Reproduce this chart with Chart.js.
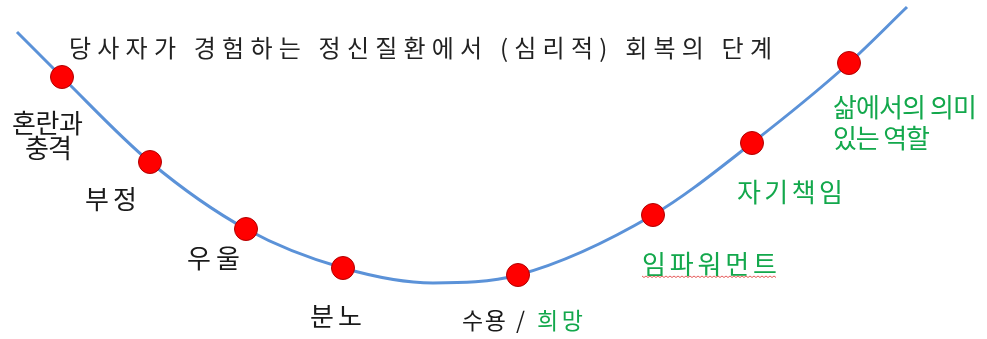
<!DOCTYPE html>
<html>
<head>
<meta charset="utf-8">
<script src="https://cdn.jsdelivr.net/npm/chart.js@4/dist/chart.umd.min.js"></script>
<style>
  html, body { margin: 0; padding: 0; background: #fff; }
  canvas { display: block; }
</style>
</head>
<body>
<canvas id="recovery" width="987" height="339"></canvas>
<script>
// stages of recovery along the curve
const stages = ['혼란과 충격', '부정', '우울', '분노', '수용 / 희망', '임파워먼트', '자기책임', '삶에서의 의미 있는 역할']
const stageX = [62, 150, 246, 343, 518, 653, 752, 849]
const stageLevel = [262, 177, 110, 71, 64, 124, 196, 276]

// the curve itself (start, stages, bottom, end)
const curveX = [17, 62, 150, 246, 343, 433, 518, 653, 752, 849, 907]
const curveLevel = [307, 262, 177, 110, 71, 56, 64, 124, 196, 276, 332]

const title = '당사자가 경험하는 정신질환에서 (심리적) 회복의 단계'

const BLACK = '#1a1a1a'
const GREEN = '#13a84c'

// label placement: x (left edge), level (middle), width to spread over
const labels = [
  { x: 12, y: 216, w: 71, parts: [['혼란과', BLACK]] },
  { x: 25, y: 191, w: 47, parts: [['충격', BLACK]] },
  { x: 85, y: 140, w: 52, parts: [['부정', BLACK]] },
  { x: 187, y: 81, w: 53, parts: [['우울', BLACK]] },
  { x: 310, y: 23, w: 52, parts: [['분노', BLACK]] },
  { x: 462, y: 19, w: 44, size: 23, parts: [['수용', BLACK]] },
  { x: 516, y: 19, w: 11, size: 23, parts: [['/', BLACK]] },
  { x: 537, y: 19, w: 46, size: 23, parts: [['희망', GREEN]] },
  { x: 642, y: 75, w: 135, parts: [['임파워먼트', GREEN]], squiggle: true },
  { x: 737, y: 147, w: 106, parts: [['자기책임', GREEN]] },
  { x: 833, y: 232, w: 144, parts: [['삶에서의 의미', GREEN]] },
  { x: 833, y: 201, w: 97, parts: [['있는 역할', GREEN]] }
]

const FONT = '"Noto Sans CJK KR", "Noto Sans", sans-serif'

// draws the pieces char by char, stretching the gaps to fill width w
function spreadText(ctx, parts, x, y, w) {
  const chars = []
  parts.forEach(p => {
    for (const ch of p[0]) chars.push([ch, p[1]])
  })
  let natural = 0
  chars.forEach(c => { natural += ctx.measureText(c[0]).width })
  const gap = chars.length > 1 ? (w - natural) / (chars.length - 1) : 0
  let px = x
  chars.forEach(c => {
    ctx.fillStyle = c[1]
    ctx.fillText(c[0], px, y)
    px += ctx.measureText(c[0]).width + gap
  })
}

const textPlugin = {
  id: 'stageText',
  afterDatasetsDraw(chart) {
    const ctx = chart.ctx
    const xs = chart.scales.x
    const ys = chart.scales.y
    ctx.save()
    ctx.textBaseline = 'middle'
    ctx.textAlign = 'left'
    ctx.font = '24px ' + FONT
    const tx = xs.getPixelForValue(69)
    spreadText(ctx, [[title, '#222']], tx, ys.getPixelForValue(291), xs.getPixelForValue(772) - tx)

    labels.forEach(l => {
      ctx.font = (l.size || 26) + 'px ' + FONT
      const py = ys.getPixelForValue(l.y)
      const px = xs.getPixelForValue(l.x)
      const w = xs.getPixelForValue(l.x + l.w) - px
      spreadText(ctx, l.parts, px, py, w)
      if (l.squiggle) {
        // spell-check wavy underline
        ctx.strokeStyle = '#e03030'
        ctx.lineWidth = 0.8
        ctx.beginPath()
        const uy = py + 12
        let k = 0
        for (let x = px; x <= px + w; x += 2, k++) {
          const yy = uy + (k % 2 === 0 ? 0 : 1.5)
          if (k === 0) ctx.moveTo(x, yy)
          else ctx.lineTo(x, yy)
        }
        ctx.stroke()
      }
    })
    ctx.restore()
  }
}

new Chart(document.getElementById('recovery'), {
  type: 'scatter',
  data: {
    datasets: [
      {
        label: 'stages',
        data: stageX.map((x, i) => ({ x: x, y: stageLevel[i], name: stages[i] })),
        pointRadius: 11.5,
        pointBackgroundColor: '#ff0000',
        pointBorderColor: '#b00000',
        pointBorderWidth: 1,
        showLine: false
      },
      {
        label: 'curve',
        data: curveX.map((x, i) => ({ x: x, y: curveLevel[i] })),
        showLine: true,
        borderColor: '#5b92d8',
        borderWidth: 3,
        pointRadius: 0,
        cubicInterpolationMode: 'monotone'
      }
    ]
  },
  options: {
    responsive: false,
    animation: false,
    devicePixelRatio: 1,
    layout: { padding: 0, autoPadding: false },
    plugins: {
      legend: { display: false },
      tooltip: { enabled: false },
      title: { display: false }
    },
    scales: {
      x: { type: 'linear', min: 0, max: 987, display: false },
      y: { type: 'linear', min: 0, max: 339, display: false }
    }
  },
  plugins: [textPlugin]
})
</script>
</body>
</html>
